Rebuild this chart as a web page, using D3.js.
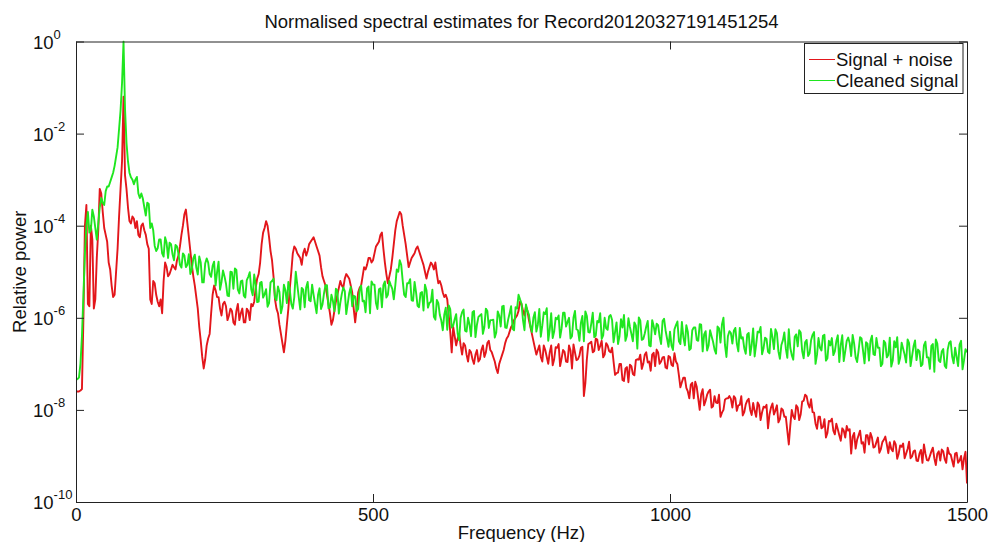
<!DOCTYPE html>
<html>
<head>
<meta charset="utf-8">
<script src="https://cdn.jsdelivr.net/npm/d3@7"></script>
<style>
  html, body { margin: 0; padding: 0; background: #fff; }
  svg { display: block; font-family: "Liberation Sans", Arial, sans-serif; }
</style>
</head>
<body>
<svg id="chart" width="992" height="542"></svg>
<script>
// ---- Data ----
const titleText = "Normalised spectral estimates for Record20120327191451254";
const xLabel = "Frequency (Hz)";
const yLabel = "Relative power";
const seriesNames = ["Signal + noise", "Cleaned signal"];
const xTicks = [0, 500, 1000, 1500];
const yTickExponents = [0, -2, -4, -6, -8, -10];
// frequency bins (Hz): even bins 0,5,...,1500 and odd bins 2.5,7.5,...,1497.5
const frequencies = d3.range(0, 1501, 5);
const frequenciesOdd = d3.range(2.5, 1500, 5);

// log10 of relative power, Signal + noise (red), even bins
const signalNoiseLog10 = [
  -7.6,-7.6,-7.55,-4.0,-5.7,-4.0,-5.8,-4.7,-3.2,-3.7,-4.2,-4.8,-5.3,-5.5,-4.5,-3.2,-1.2,-3.2,-3.9,-3.8,
  -4.05,-4.2,-4.0,-4.1,-4.4,-5.6,-5.2,-5.5,-5.75,-5.9,-4.8,-5.1,-4.95,-4.9,-4.75,-4.45,-4.0,-3.65,-4.25,-4.85,
  -5.3,-5.8,-6.5,-7.1,-6.6,-6.35,-5.5,-5.4,-5.55,-5.95,-5.65,-6.05,-5.8,-6.1,-5.85,-6.05,-5.8,-6.1,-5.85,-5.7,
  -5.65,-5.15,-4.8,-4.15,-3.9,-4.25,-4.75,-5.6,-5.9,-6.35,-6.75,-6.15,-5.35,-4.6,-4.5,-4.65,-4.85,-4.5,-4.55,-4.35,
  -4.25,-4.45,-4.65,-5.1,-5.3,-5.7,-6.15,-5.85,-5.5,-5.2,-5.35,-5.05,-5.15,-5.45,-6.1,-5.45,-5.3,-4.9,-4.85,-4.7,
  -4.75,-4.45,-4.35,-4.15,-4.8,-5.25,-4.95,-4.4,-3.9,-3.7,-4.0,-4.4,-4.9,-4.7,-4.6,-4.45,-4.65,-4.85,-5.15,-4.9,
  -4.85,-4.8,-5.25,-5.3,-5.55,-5.6,-6.3,-6.2,-6.6,-6.35,-6.8,-6.6,-6.95,-6.75,-7.0,-6.7,-6.9,-6.6,-6.75,-6.5,
  -6.75,-6.95,-7.2,-6.9,-6.7,-6.45,-6.3,-6.15,-6.0,-5.85,-5.7,-5.95,-5.85,-6.2,-6.5,-6.8,-6.6,-6.95,-6.7,-7.0,
  -6.6,-6.9,-6.65,-7.05,-6.7,-6.95,-6.6,-7.1,-6.75,-6.9,-6.65,-7.7,-6.9,-6.55,-6.75,-6.45,-6.7,-6.5,-6.8,-6.6,
  -6.75,-6.95,-7.2,-7.0,-7.35,-7.1,-7.4,-7.05,-7.25,-6.9,-6.8,-7.0,-6.75,-6.95,-6.8,-7.05,-6.75,-6.95,-6.85,-7.1,
  -6.85,-7.05,-6.95,-7.25,-7.4,-7.3,-7.6,-7.45,-7.75,-7.5,-8.0,-7.55,-7.8,-7.6,-7.95,-7.7,-7.85,-8.15,-8.0,-7.75,
  -7.7,-7.95,-7.75,-7.9,-7.7,-8.05,-7.8,-8.0,-7.85,-8.15,-7.9,-8.05,-7.95,-8.4,-7.95,-8.1,-7.9,-8.2,-8.0,-8.15,
  -8.75,-8.0,-8.2,-7.95,-8.1,-7.8,-7.7,-7.95,-8.05,-8.3,-8.15,-8.4,-8.2,-8.5,-8.25,-8.45,-8.3,-8.55,-8.4,-8.6,
  -8.45,-8.95,-8.5,-8.65,-8.45,-8.7,-8.55,-8.75,-8.6,-8.8,-8.6,-8.85,-8.65,-8.75,-8.7,-8.9,-8.75,-8.95,-8.8,-9.05,
  -8.85,-9.05,-8.9,-9.1,-8.95,-9.15,-8.95,-9.1,-8.9,-9.05,-8.95,-9.1,-8.9,-9.15,-8.95,-9.1,-8.95,-9.15,-9.0,-9.05,-9.6
];
// log10 of relative power, Signal + noise (red), odd bins
const signalNoiseLog10Odd = [
  -7.6,-7.58,-6.0,-3.55,-5.75,-4.3,-5.6,-4.1,-3.3,-4.05,-4.35,-4.95,-5.55,-5.0,-3.8,-2.6,-2.9,-3.6,-3.95,-3.85,
  -3.9,-4.25,-3.95,-4.2,-4.5,-5.7,-5.25,-5.65,-5.6,-5.2,-4.9,-5.05,-4.85,-4.95,-4.65,-4.2,-3.75,-3.95,-4.55,-5.1,
  -5.55,-6.2,-6.85,-6.9,-6.45,-5.9,-5.3,-5.55,-5.8,-5.7,-5.75,-5.95,-5.85,-6.15,-5.7,-5.9,-6.1,-5.8,-6.05,-5.75,
  -5.35,-5.05,-4.4,-4.05,-4.0,-4.55,-5.1,-5.8,-6.15,-6.55,-6.5,-5.8,-5.0,-4.45,-4.6,-4.7,-4.6,-4.65,-4.4,-4.3,
  -4.35,-4.55,-4.9,-5.2,-5.5,-5.9,-6.05,-5.65,-5.35,-5.3,-5.15,-5.1,-5.3,-5.8,-5.8,-5.35,-5.1,-4.95,-4.7,-4.8,
  -4.6,-4.4,-4.2,-4.5,-5.05,-5.1,-4.7,-4.1,-3.8,-3.75,-4.2,-4.65,-4.8,-4.65,-4.5,-4.55,-4.75,-5.0,-5.0,-4.8,
  -4.95,-5.05,-5.2,-5.45,-5.5,-5.95,-6.75,-6.4,-6.45,-6.6,-6.55,-6.8,-6.7,-6.9,-6.8,-6.95,-6.7,-6.85,-6.55,-6.7,
  -6.85,-7.1,-7.0,-6.8,-6.55,-6.4,-6.2,-6.05,-5.95,-5.65,-5.85,-5.75,-6.05,-6.35,-6.65,-6.7,-6.85,-6.6,-6.85,-6.75,
  -7.03,-6.64,-6.57,-6.88,-6.74,-6.96,-6.71,-6.58,-6.92,-6.82,-6.63,-7.42,-6.57,-6.52,-6.72,-6.47,-6.61,-6.86,-6.55,-6.72,
  -6.65,-7.24,-7.19,-7.0,-7.37,-7.07,-7.02,-7.22,-6.92,-6.91,-7.11,-6.8,-6.97,-7.15,-6.76,-6.69,-7.0,-6.86,-7.08,-6.83,
  -7.02,-6.77,-7.01,-7.51,-7.3,-7.52,-7.75,-7.41,-7.39,-7.75,-7.66,-7.9,-7.67,-7.56,-7.92,-7.84,-7.67,-8.06,-7.78,-7.75,
  -7.76,-7.7,-8.02,-7.89,-8.12,-7.88,-7.76,-8.11,-8.02,-7.84,-8.22,-7.93,-7.89,-8.1,-7.86,-8.01,-8.27,-7.97,-8.15,-8.45,
  -8.34,-8.14,-7.9,-8.22,-7.82,-7.67,-7.87,-7.77,-8.06,-8.41,-8.15,-8.37,-8.6,-8.24,-8.19,-8.53,-8.42,-8.67,-8.45,-8.35,
  -8.42,-8.58,-8.84,-8.55,-8.73,-8.93,-8.55,-8.5,-8.82,-8.7,-8.93,-8.7,-8.58,-8.94,-8.85,-8.68,-9.06,-8.77,-8.73,-8.95,
  -8.69,-9.01,-8.88,-9.11,-8.87,-8.75,-9.09,-9.0,-8.82,-9.2,-8.9,-8.86,-9.07,-8.82,-8.97,-9.23,-8.93,-9.1,-9.29,-8.91
];

// log10 of relative power, Cleaned signal (green), even bins
const cleanedLog10 = [
  -7.35,-7.3,-6.4,-4.6,-3.7,-4.1,-3.8,-4.3,-3.6,-3.5,-3.25,-3.15,-2.95,-2.7,-2.3,-1.5,0,-2.2,-2.85,-3.0,
  -3.0,-3.3,-3.3,-3.6,-3.5,-4.05,-4.1,-4.55,-4.3,-4.6,-4.25,-4.7,-4.4,-4.75,-4.45,-4.85,-4.6,-4.9,-4.62,-4.95,
  -4.63,-5.06,-4.8,-5.23,-4.71,-5.05,-4.87,-5.3,-4.78,-5.22,-5.1,-5.52,-5.0,-5.37,-4.96,-5.47,-5.19,-5.56,-5.11,-5.38,
  -5.06,-5.66,-5.24,-5.56,-5.38,-5.68,-5.2,-5.56,-5.32,-5.9,-5.28,-5.68,-5.4,-5.8,-5.0,-5.55,-5.35,-5.77,-5.22,-5.64,
  -5.5,-5.9,-5.36,-5.71,-5.29,-5.79,-5.5,-5.86,-5.41,-5.67,-5.34,-5.92,-5.46,-5.75,-5.54,-5.81,-5.3,-5.63,-5.36,-5.9,
  -5.28,-5.68,-5.38,-5.77,-5.21,-5.5,-5.29,-5.6,-4.95,-4.75,-5.2,-5.55,-5.25,-5.62,-5.22,-5.74,-5.46,-5.84,-5.4,-5.68,
  -5.39,-6.04,-5.68,-6.06,-5.93,-6.26,-5.81,-6.17,-5.92,-6.49,-5.88,-6.28,-6.0,-6.4,-5.85,-6.15,-5.95,-6.35,-5.8,-6.22,
  -6.05,-6.43,-5.86,-6.19,-5.74,-6.22,-5.9,-6.24,-5.77,-5.5,-5.69,-6.27,-5.85,-6.18,-6.0,-6.3,-5.81,-6.17,-5.92,-6.5,
  -5.9,-6.3,-6.03,-6.43,-5.89,-6.19,-6.0,-6.4,-5.85,-6.27,-6.11,-6.51,-5.96,-6.32,-5.89,-6.39,-6.1,-6.46,-6.0,-6.26,
  -5.94,-6.53,-6.1,-6.4,-6.21,-6.5,-6.01,-6.35,-6.1,-6.67,-6.06,-6.46,-6.19,-6.6,-6.05,-6.36,-6.16,-6.57,-6.02,-6.45,
  -6.3,-6.7,-6.16,-6.51,-6.09,-6.6,-6.3,-6.67,-6.21,-6.48,-6.14,-6.73,-6.29,-6.6,-6.4,-6.69,-6.19,-6.54,-6.0,-6.85,
  -6.29,-6.56,-6.22,-6.73,-6.45,-6.66,-6.36,-6.81,-6.23,-6.58,-6.32,-6.79,-6.43,-6.74,-6.24,-6.68,-6.33,-6.89,-6.49,-6.67,
  -6.25,-6.81,-6.41,-6.62,-6.32,-6.88,-6.48,-6.77,-6.37,-7.0,-6.44,-6.71,-6.37,-6.88,-6.6,-6.81,-6.51,-6.96,-6.38,-6.73,
  -6.43,-6.83,-6.56,-6.96,-6.42,-6.72,-6.53,-6.93,-6.39,-6.81,-6.65,-7.05,-6.5,-6.86,-6.43,-6.93,-6.64,-7.0,-6.54,-6.8,
  -6.47,-7.05,-6.62,-6.92,-6.73,-7.01,-6.52,-6.86,-6.61,-7.17,-6.56,-6.96,-6.68,-7.09,-6.54,-6.84,-6.65,-7.05,-6.5,-6.92,-6.75
];
// log10 of relative power, Cleaned signal (green), odd bins
const cleanedLog10Odd = [
  -7.33,-7.0,-5.5,-4.0,-4.15,-3.65,-4.05,-3.95,-3.4,-3.55,-3.15,-3.05,-2.85,-2.5,-1.9,-0.9,-1.45,-2.6,-2.95,-3.1,
  -2.94,-3.4,-3.41,-3.78,-3.53,-3.95,-4.44,-4.49,-4.3,-4.67,-4.37,-4.37,-4.62,-4.42,-4.61,-4.91,-4.65,-4.85,-5.05,-4.71,
  -4.91,-4.67,-5.23,-4.82,-4.8,-5.11,-4.78,-5.01,-5.39,-4.97,-5.26,-5.53,-5.01,-4.93,-5.39,-5.21,-5.52,-5.18,-5.01,-5.51,
  -5.28,-5.65,-5.22,-5.49,-5.76,-5.23,-5.15,-5.62,-5.44,-5.75,-5.4,-5.22,-5.7,-5.55,-5.28,-5.82,-5.39,-5.34,-5.62,-5.28,
  -5.7,-5.5,-5.81,-5.47,-5.29,-5.78,-5.63,-5.37,-5.91,-5.48,-5.42,-5.69,-5.33,-5.52,-5.86,-5.4,-5.64,-5.88,-5.32,-5.21,
  -5.28,-5.81,-5.36,-5.29,-5.56,-5.2,-5.37,-5.3,-5.0,-4.85,-5.5,-5.25,-5.16,-5.63,-5.45,-5.77,-5.44,-5.28,-5.78,-5.65,
  -5.98,-5.61,-5.94,-6.27,-5.78,-5.73,-6.21,-6.03,-6.34,-6.0,-5.82,-6.3,-6.15,-5.88,-6.42,-5.98,-5.92,-6.2,-5.85,-6.05,
  -6.04,-6.32,-5.95,-5.75,-6.21,-6.04,-5.75,-6.27,-5.8,-5.6,-6.05,-5.71,-5.93,-6.31,-5.88,-6.15,-6.41,-5.88,-5.79,-6.26,
  -6.44,-6.0,-5.95,-6.23,-5.89,-6.09,-6.45,-6.0,-6.25,-6.5,-5.96,-5.86,-6.31,-6.12,-6.42,-6.07,-5.9,-6.38,-6.23,-5.97,
  -6.05,-6.31,-6.57,-6.03,-5.94,-6.39,-6.2,-6.51,-6.17,-5.99,-6.48,-6.34,-6.07,-6.62,-6.18,-6.13,-6.41,-6.07,-6.27,-6.63,
  -6.6,-6.25,-6.08,-6.57,-6.42,-6.16,-6.7,-6.27,-6.21,-6.5,-6.15,-6.36,-6.71,-6.27,-6.52,-6.78,-6.23,-6.14,-6.59,-6.4,
  -6.33,-6.28,-6.56,-6.22,-6.42,-6.78,-6.33,-6.59,-6.84,-6.3,-6.2,-6.66,-6.46,-6.77,-6.42,-6.25,-6.73,-6.59,-6.32,-6.87,
  -6.65,-6.91,-6.36,-6.27,-6.72,-6.53,-6.83,-6.49,-6.31,-6.8,-6.65,-6.39,-6.93,-6.5,-6.44,-6.73,-6.38,-6.59,-6.94,-6.5,
  -6.55,-6.37,-6.86,-6.71,-6.45,-6.99,-6.56,-6.5,-6.79,-6.44,-6.65,-7.0,-6.55,-6.81,-7.06,-6.51,-6.42,-6.87,-6.67,-6.97,
  -6.55,-6.83,-6.49,-6.69,-7.05,-6.6,-6.86,-7.11,-6.57,-6.47,-6.93,-6.73,-7.04,-6.69,-6.51,-6.99,-6.85,-6.58,-7.12,-6.68
];

const seriesColors = ["#e3161b", "#1fe61f"];

// ---- Build series (merge even and odd bins, sorted by frequency) ----
function buildValues(evenLog, oddLog) {
  const pts = frequencies.map((f, i) => ({ f, p: Math.pow(10, evenLog[i]) }))
    .concat(frequenciesOdd.map((f, i) => ({ f, p: Math.pow(10, oddLog[i]) })));
  return pts.sort((a, b) => a.f - b.f);
}
const series = [
  { name: seriesNames[0], color: seriesColors[0], values: buildValues(signalNoiseLog10, signalNoiseLog10Odd) },
  { name: seriesNames[1], color: seriesColors[1], values: buildValues(cleanedLog10, cleanedLog10Odd) }
];

// ---- Layout ----
const svg = d3.select("#chart");
const plotLeft = 76, plotRight = 967, plotTop = 41.5, plotBottom = 502;
const fontSize = 18.5;

const x = d3.scaleLinear().domain([0, 1500]).range([plotLeft, plotRight]);
const y = d3.scaleLog().domain([1e-10, 1]).range([plotBottom, plotTop]).clamp(true);

svg.append("defs").append("clipPath").attr("id", "plotclip")
  .append("rect").attr("x", plotLeft).attr("y", plotTop - 1)
  .attr("width", plotRight - plotLeft).attr("height", plotBottom - plotTop + 1);

// ---- Lines ----
const line = d3.line().x(d => x(d.f)).y(d => y(d.p));
svg.append("g").attr("clip-path", "url(#plotclip)")
  .selectAll("path").data(series).join("path")
  .attr("d", d => line(d.values))
  .attr("fill", "none")
  .attr("stroke", d => d.color)
  .attr("stroke-width", 1.9)
  .attr("stroke-linejoin", "round");

// ---- Axes (ticks inside, box) ----
const axisColor = "#222";
const tickLen = 8;
function styleAxis(g) {
  g.selectAll(".domain").attr("stroke", axisColor).attr("stroke-width", 1);
  g.selectAll(".tick line").attr("stroke", axisColor).attr("stroke-width", 1);
}
const yTickValues = yTickExponents.map(e => Math.pow(10, e));

svg.append("g").attr("transform", `translate(0,${plotBottom})`)
  .call(d3.axisBottom(x).tickValues(xTicks).tickSizeInner(-tickLen).tickSizeOuter(0).tickPadding(6).tickFormat(d3.format("d")))
  .call(styleAxis)
  .call(g => g.selectAll(".tick text").attr("fill", "#111").attr("font-size", fontSize)
    .attr("font-family", "Liberation Sans, Arial, sans-serif"));

svg.append("g").attr("transform", `translate(0,${plotTop})`)
  .call(d3.axisTop(x).tickValues(xTicks).tickSizeInner(-tickLen).tickSizeOuter(0).tickFormat(""))
  .call(styleAxis);

svg.append("g").attr("transform", `translate(${plotLeft},0)`)
  .call(d3.axisLeft(y).tickValues(yTickValues).tickSizeInner(-tickLen).tickSizeOuter(0).tickFormat(""))
  .call(styleAxis);

svg.append("g").attr("transform", `translate(${plotRight},0)`)
  .call(d3.axisRight(y).tickValues(yTickValues).tickSizeInner(-tickLen).tickSizeOuter(0).tickFormat(""))
  .call(styleAxis);

// y tick labels: 10 with superscript exponent
const yLab = svg.append("g").attr("fill", "#111");
yTickExponents.forEach(e => {
  const t = yLab.append("text")
    .attr("x", 33).attr("y", y(Math.pow(10, e)) + 7)
    .attr("font-size", fontSize);
  t.append("tspan").text("10");
  t.append("tspan").attr("dy", -10).attr("font-size", 13).text(String(e));
});

// ---- Titles ----
svg.append("text").attr("x", (plotLeft + plotRight) / 2).attr("y", 28)
  .attr("text-anchor", "middle").attr("font-size", fontSize).attr("fill", "#111").text(titleText);
svg.append("text").attr("x", (plotLeft + plotRight) / 2).attr("y", 539)
  .attr("text-anchor", "middle").attr("font-size", fontSize).attr("fill", "#111").text(xLabel);
svg.append("text").attr("transform", `translate(26,${(plotTop + plotBottom) / 2}) rotate(-90)`)
  .attr("text-anchor", "middle").attr("font-size", fontSize).attr("fill", "#111").text(yLabel);

// ---- Legend ----
const legend = svg.append("g");
legend.append("rect").attr("x", 804.5).attr("y", 43.5).attr("width", 158.5).attr("height", 50)
  .attr("fill", "#fff").attr("stroke", axisColor).attr("stroke-width", 1);
series.forEach((s, i) => {
  const cy = 59.5 + i * 21;
  legend.append("line").attr("x1", 809).attr("x2", 835).attr("y1", cy).attr("y2", cy)
    .attr("stroke", s.color).attr("stroke-width", 1);
  legend.append("text").attr("x", 836).attr("y", cy + 6.5)
    .attr("font-size", fontSize).attr("fill", "#111").text(s.name);
});
</script>
</body>
</html>
